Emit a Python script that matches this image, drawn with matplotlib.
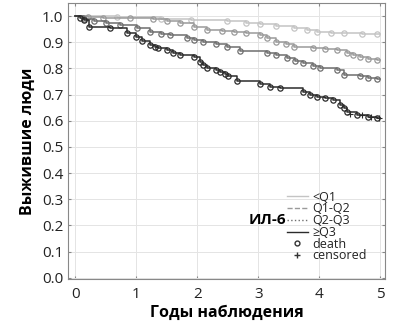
import matplotlib
matplotlib.use("Agg")
import matplotlib.pyplot as plt
from matplotlib.lines import Line2D

plt.rcParams['font.family'] = ['Open Sans', 'DejaVu Sans']

# survival curves (time in years, survival fraction)
t_q1 = [0, 0.68, 1.4, 1.9, 2.49, 2.8, 3.03, 3.3, 3.58, 3.8, 3.96, 4.2, 4.4, 4.7, 4.95, 5.0]
s_q1 = [1.0, 0.996, 0.99, 0.986, 0.98, 0.975, 0.97, 0.962, 0.953, 0.947, 0.94, 0.937, 0.934, 0.932, 0.93, 0.93]

t_q12 = [0, 0.2, 0.46, 0.9, 1.28, 1.5, 1.72, 1.95, 2.16, 2.4, 2.6, 2.8, 3.03, 3.15, 3.3, 3.45, 3.58, 3.9,
         4.1, 4.29, 4.45, 4.55, 4.67, 4.8, 4.95, 5.0]
s_q12 = [1.0, 0.995, 0.993, 0.992, 0.99, 0.98, 0.972, 0.96, 0.947, 0.943, 0.94, 0.935, 0.927, 0.915, 0.902,
         0.892, 0.883, 0.877, 0.875, 0.87, 0.858, 0.852, 0.842, 0.836, 0.832, 0.832]

t_q23 = [0, 0.15, 0.3, 0.5, 0.74, 1.01, 1.23, 1.4, 1.56, 1.83, 1.95, 2.1, 2.3, 2.49, 2.7, 3.14, 3.3, 3.47,
         3.6, 3.74, 3.9, 4.02, 4.29, 4.4, 4.67, 4.8, 4.95, 5.0]
s_q23 = [1.0, 0.99, 0.98, 0.972, 0.966, 0.953, 0.94, 0.933, 0.927, 0.915, 0.91, 0.902, 0.893, 0.883, 0.865,
         0.858, 0.85, 0.839, 0.83, 0.82, 0.81, 0.80, 0.794, 0.775, 0.771, 0.765, 0.758, 0.758]

t_q3 = [0, 0.08, 0.14, 0.22, 0.57, 0.85, 1.0, 1.1, 1.23, 1.3, 1.35, 1.5, 1.6, 1.72, 1.94, 2.05, 2.1, 2.16,
        2.3, 2.38, 2.45, 2.5, 2.65, 3.03, 3.2, 3.36, 3.74, 3.85, 3.96, 4.1, 4.23, 4.34, 4.4, 4.45, 4.62,
        4.8, 4.95, 5.0]
s_q3 = [1.0, 0.993, 0.985, 0.96, 0.953, 0.934, 0.92, 0.905, 0.889, 0.883, 0.878, 0.87, 0.86, 0.851, 0.845,
        0.826, 0.813, 0.80, 0.795, 0.788, 0.78, 0.77, 0.75, 0.74, 0.73, 0.724, 0.71, 0.70, 0.692, 0.686,
        0.679, 0.66, 0.648, 0.635, 0.622, 0.615, 0.61, 0.61]

cens_t = [4.5, 4.7, 4.85, 4.98]
cens_s = [0.625, 0.62, 0.613, 0.61]

groups = [
    ("<Q1", t_q1, s_q1, "#c4c4c4", "-"),
    ("Q1-Q2", t_q12, s_q12, "#9a9a9a", "--"),
    ("Q2-Q3", t_q23, s_q23, "#6e6e6e", ":"),
    ("\u2265Q3", t_q3, s_q3, "#2b2b2b", "-"),
]

fig = plt.figure(figsize=(4.0, 3.29), dpi=100)
ax = fig.add_axes([0.17, 0.152, 0.7925, 0.839])

for name, t, s, col, ls in groups:
    ax.step(t, s, where='post', color=col, lw=1.1, ls='-')
    ax.plot(t[1:-1], s[1:-1], 'o', mfc='none', mec=col, ms=3.8, mew=0.9)

ax.plot(cens_t, cens_s, '+', color="#2b2b2b", ms=4, mew=0.8)

ax.set_xlim(-0.12, 5.08)
ax.set_ylim(-0.005, 1.05)
ax.set_xticks([0, 1, 2, 3, 4, 5])
ax.set_yticks([i / 10 for i in range(11)])
ax.set_yticklabels([f"{i / 10:.1f}" for i in range(11)])
ax.grid(True, color="#e4e4e4", lw=0.7)
ax.tick_params(direction='in', length=2, colors="#888888", labelcolor="#222222", labelsize=11,
               top=True, right=True)
ax.tick_params(axis='x', pad=6)
for sp in ax.spines.values():
    sp.set_color("#888888")

ax.set_xlabel("Годы наблюдения", fontsize=11.5, fontweight='bold', labelpad=2)
ax.set_ylabel("Выжившие люди", fontsize=11.5, fontweight='bold', labelpad=4)

handles = [Line2D([], [], color=c, ls=ls, lw=1.0) for _, _, _, c, ls in groups]
handles += [Line2D([], [], ls='none', marker='o', mfc='none', mec='#333333', ms=3.5),
            Line2D([], [], ls='none', marker='+', color='#333333', ms=4)]
labels = [g[0] for g in groups] + ["death", "censored"]
leg = ax.legend(handles, labels, loc='lower left', bbox_to_anchor=(0.69, 0.06), frameon=False,
                fontsize=9, handlelength=1.7, handletextpad=0.35, labelspacing=-0.1,
                borderpad=0, borderaxespad=0)
for txt in leg.get_texts():
    txt.set_color("#222222")

ax.text(0.628, 0.214, "ИЛ-6", transform=ax.transAxes, fontsize=11, fontweight='bold',
        ha='center', va='center')

fig.savefig("out.png", dpi=100)
